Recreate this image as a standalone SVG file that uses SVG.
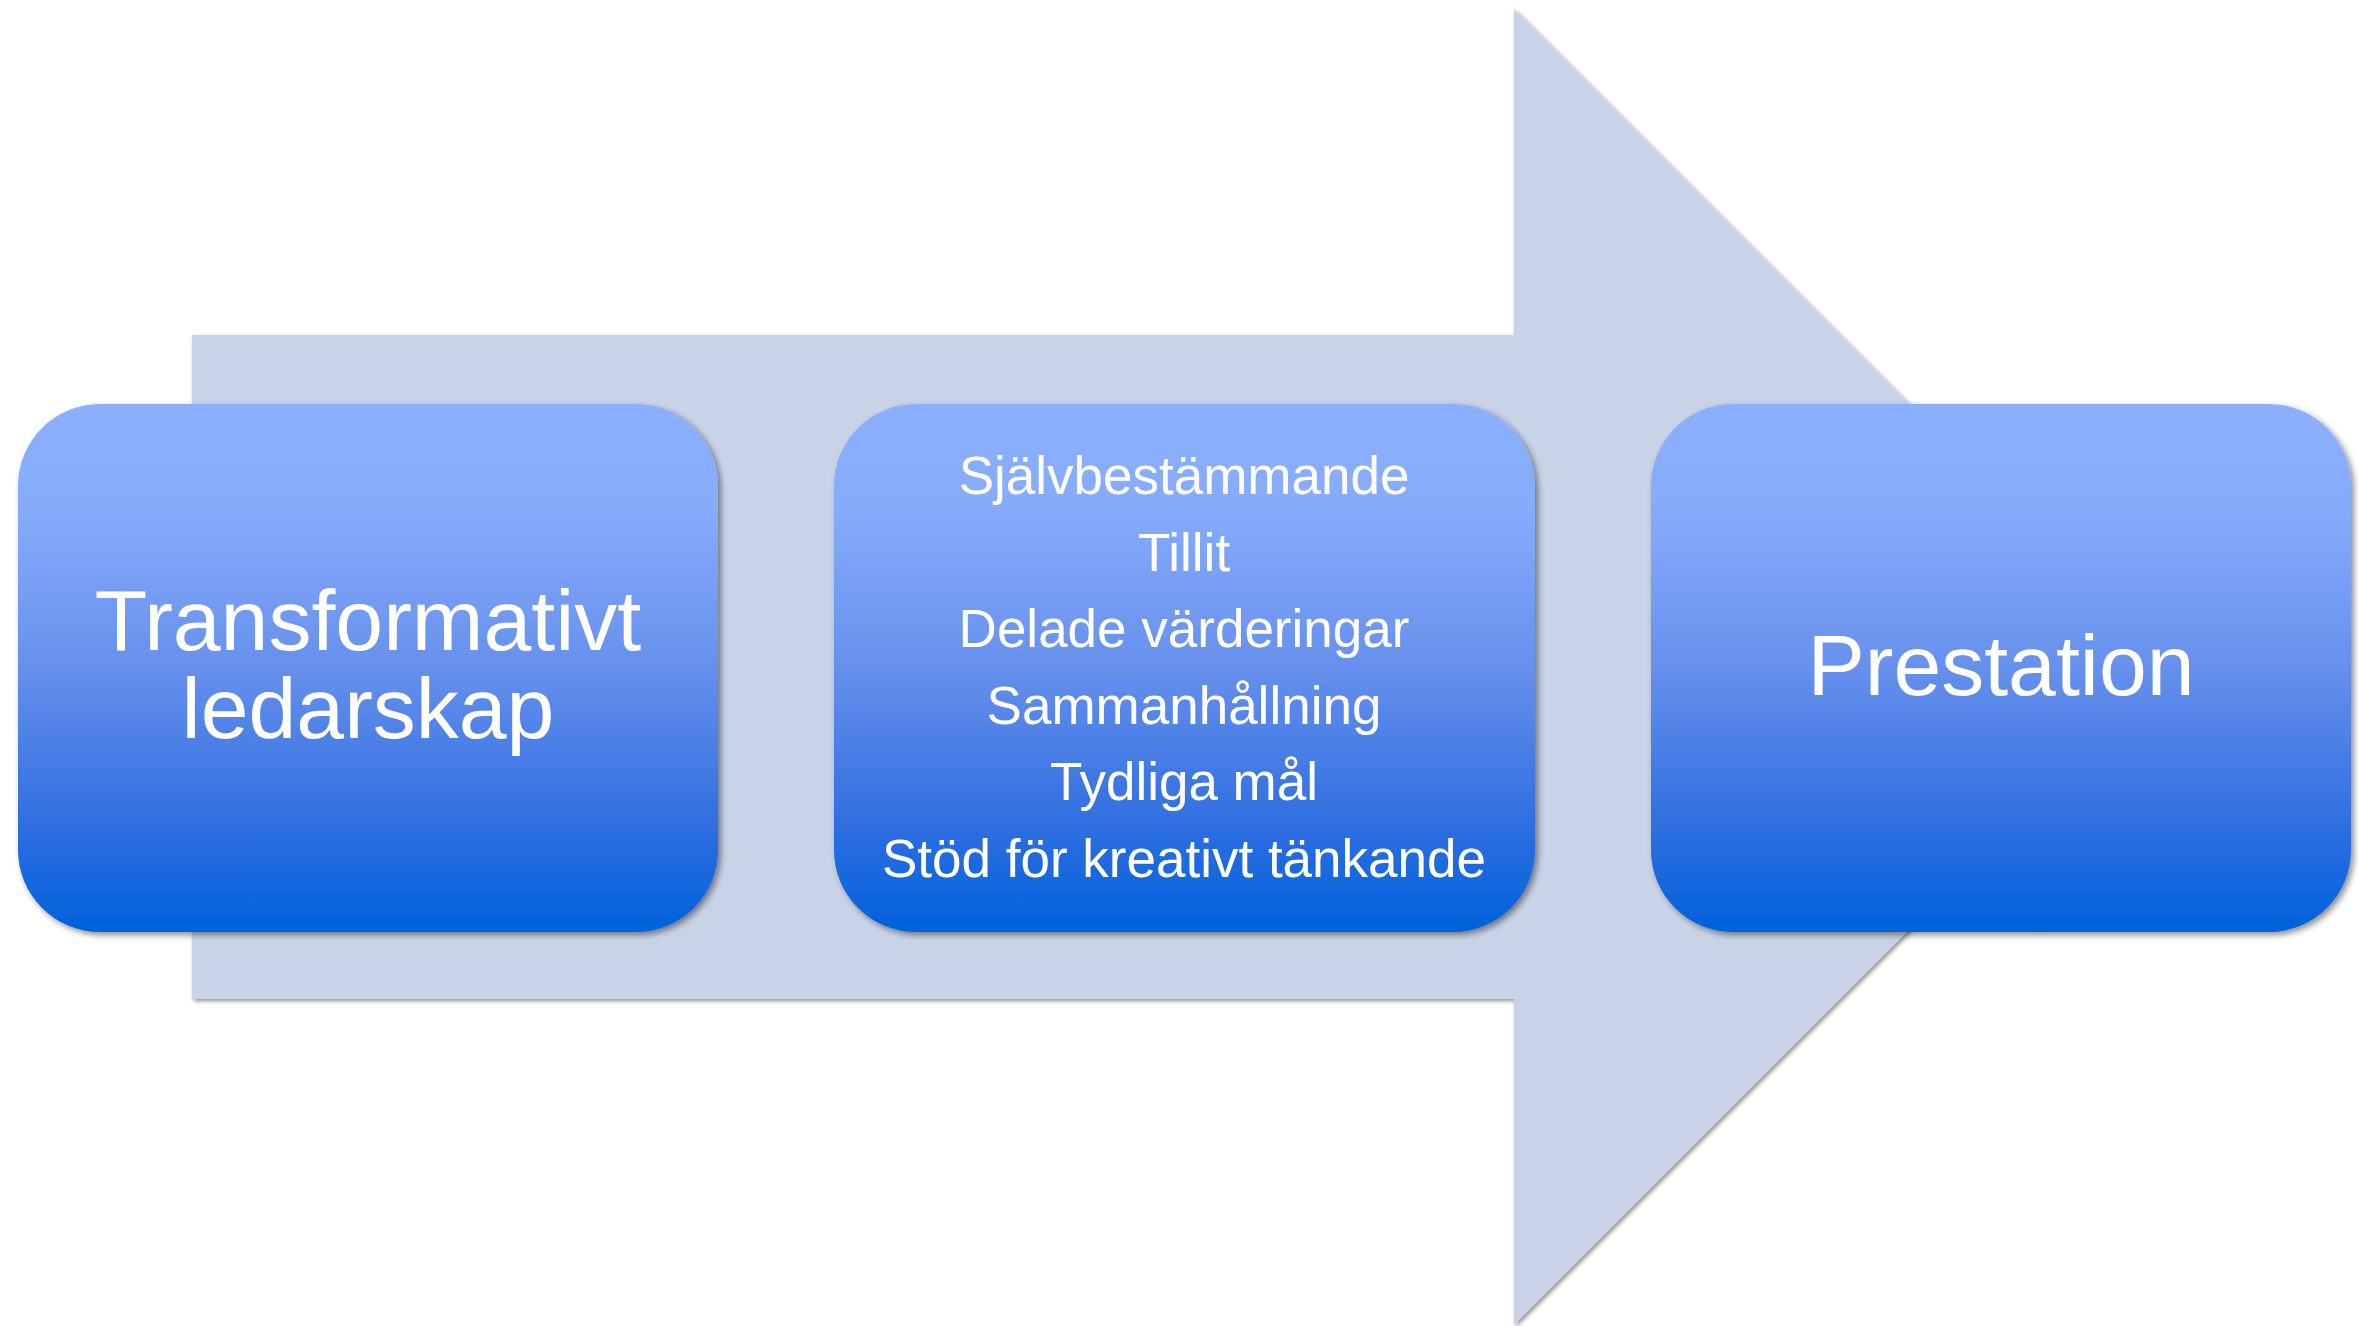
<svg xmlns="http://www.w3.org/2000/svg" width="2358" height="1326" viewBox="0 0 2358 1326">
  <defs>
    <linearGradient id="boxGrad" x1="0" y1="0" x2="0" y2="1">
      <stop offset="0" stop-color="#8CB0FF"/>
      <stop offset="0.2" stop-color="#86ABFB"/>
      <stop offset="0.5" stop-color="#6690EC"/>
      <stop offset="0.8" stop-color="#2F6EE0"/>
      <stop offset="1" stop-color="#0062DC"/>
    </linearGradient>
    <filter id="arrowShadow" x="-5%" y="-5%" width="110%" height="110%">
      <feDropShadow dx="2" dy="2" stdDeviation="2" flood-color="#000000" flood-opacity="0.45"/>
    </filter>
    <filter id="boxShadow" x="-5%" y="-5%" width="110%" height="110%">
      <feDropShadow dx="3" dy="3" stdDeviation="3" flood-color="#000000" flood-opacity="0.45"/>
    </filter>
  </defs>
  <style>
    .box { fill: url(#boxGrad); filter: url(#boxShadow); }
    .big { font-family: "Liberation Sans", Arial, sans-serif; font-size: 86px; fill: #FFFFFF; text-anchor: middle; }
    .list { font-family: "Liberation Sans", Arial, sans-serif; font-size: 53px; fill: #FFFFFF; text-anchor: middle; }
  </style>
  <rect width="2358" height="1326" fill="#FFFFFF"/>
  <g id="connectors">
    <polygon id="arrow" points="192,335 1514,335 1514,9 2172,667 1514,1325 1514,999 192,999" fill="#C9D3E8" filter="url(#arrowShadow)"/>
  </g>
  <g id="node-transformativt">
    <rect class="box" x="18" y="404" width="700" height="528" rx="82" ry="82"/>
    <text class="big" x="368" y="650">Transformativt</text>
    <text class="big" x="368" y="738">ledarskap</text>
  </g>
  <g id="node-faktorer">
    <rect class="box" x="834" y="404" width="701" height="528" rx="82" ry="82"/>
    <text class="list" x="1184" y="494">Självbestämmande</text>
    <text class="list" x="1184" y="571">Tillit</text>
    <text class="list" x="1184" y="647">Delade värderingar</text>
    <text class="list" x="1184" y="724">Sammanhållning</text>
    <text class="list" x="1184" y="800">Tydliga mål</text>
    <text class="list" x="1184" y="877">Stöd för kreativt tänkande</text>
  </g>
  <g id="node-prestation">
    <rect class="box" x="1651" y="404" width="700" height="528" rx="82" ry="82"/>
    <text class="big" x="2001" y="695">Prestation</text>
  </g>
</svg>
